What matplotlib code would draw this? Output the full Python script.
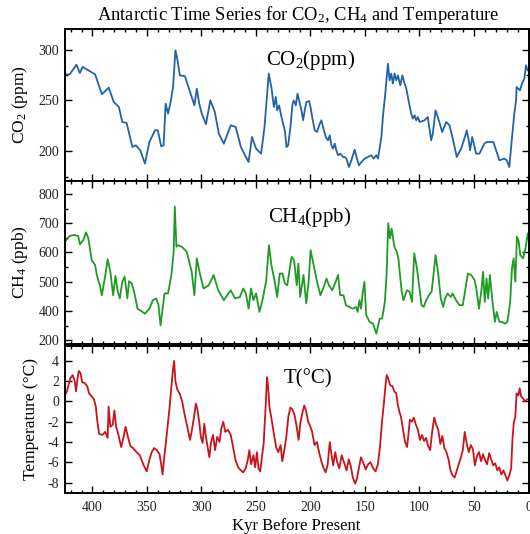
import matplotlib
matplotlib.use("Agg")
import matplotlib.pyplot as plt
from matplotlib.ticker import MultipleLocator, FixedLocator, FixedFormatter

plt.rcParams['font.family'] = ['Liberation Serif', 'DejaVu Serif']
plt.rcParams['mathtext.fontset'] = 'custom'
plt.rcParams['mathtext.rm'] = 'Liberation Serif'
plt.rcParams['mathtext.it'] = 'Liberation Serif:italic'
plt.rcParams['axes.unicode_minus'] = False

# ---------------- data (kyr before present, value) ----------------
co2_age = [425.6, 420.9, 414.7, 411.6, 409.1, 403.8, 397.6, 391.4, 385.1, 380.5,
           375.8, 372.7, 368.7, 363.4, 360.3, 356.2, 351.9, 347.8, 342.6, 340.1,
           337.0, 334.8, 332.9, 330.7, 328.3, 326.1, 323.9, 322.0, 319.9, 315.2,
           311.2, 306.5, 304.3, 302.1, 299.7, 295.9, 291.9, 287.8, 284.1, 279.5,
           273.2, 268.6, 263.9, 259.3, 256.8, 253.7, 249.9, 245.3, 242.2, 238.3,
           235.7, 233.6, 231.8, 230.6, 228.8, 226.6, 223.6, 222.0, 220.5, 218.4,
           216.5, 215.3, 213.5, 211.9, 209.8, 208.3, 206.8, 205.3, 203.7, 201.3,
           200.0, 198.2, 196.1, 194.0, 191.5, 190.0, 188.5, 186.0, 183.9, 182.4,
           180.8, 179.3, 177.8, 176.3, 174.8, 172.6, 170.2, 168.6, 167.1, 164.7,
           162.5, 159.5, 157.4, 155.5, 153.3, 150.3, 147.3, 144.2, 142.1, 139.6,
           138.1, 136.6, 135.0, 133.6, 131.1, 129.0, 127.4, 125.9, 124.4, 122.9,
           121.3, 119.8, 117.6, 115.8, 113.7, 112.1, 109.8, 107.6, 106.1, 104.5,
           103.0, 101.5, 99.9, 95.4, 92.4, 89.3, 87.8, 85.3, 82.3, 79.2,
           75.5, 72.5, 69.5, 65.8, 61.8, 57.9, 56.7, 54.8, 53.6, 51.7,
           50.5, 48.1, 45.0, 40.5, 38.4, 32.2, 26.7, 22.2, 20.0, 17.6,
           15.1, 13.0, 11.4, 10.9, 7.8, 6.0, 3.8, 2.3, 0.8]
co2_ppm = [275.7, 275.7, 285.2, 277.0, 283.0, 279.7, 275.7, 256.1, 262.6, 248.5,
           243.6, 228.9, 227.9, 204.3, 205.9, 201.0, 187.9, 209.2, 220.7, 220.7,
           204.9, 205.9, 246.9, 237.0, 248.5, 263.3, 299.3, 289.5, 274.8, 273.8,
           260.7, 245.2, 261.6, 246.9, 237.0, 226.6, 250.2, 238.7, 217.4, 207.5,
           225.6, 223.9, 204.3, 194.4, 189.5, 214.1, 202.6, 197.7, 223.9, 276.5,
           261.7, 243.6, 253.4, 240.3, 245.2, 233.7, 220.6, 204.2, 205.9, 223.9,
           246.9, 250.1, 245.2, 256.7, 246.9, 240.3, 230.5, 240.3, 248.5, 249.5,
           243.6, 232.2, 220.6, 219.0, 227.2, 230.5, 223.9, 214.0, 210.8, 215.7,
           205.9, 202.6, 207.6, 201.0, 196.1, 197.7, 194.4, 194.4, 192.8, 184.6,
           191.2, 201.7, 192.8, 186.2, 189.5, 192.8, 194.4, 196.1, 192.8, 196.1,
           192.8, 202.6, 214.0, 233.7, 260.0, 286.2, 269.8, 276.4, 266.6, 276.4,
           269.8, 274.7, 264.9, 274.7, 266.6, 261.7, 248.5, 237.0, 232.2, 235.4,
           230.5, 233.7, 228.8, 230.5, 233.7, 210.8, 217.4, 240.3, 230.5, 219.0,
           228.8, 225.6, 212.5, 194.4, 202.6, 215.7, 220.6, 210.8, 201.0, 214.0,
           209.1, 197.7, 197.7, 207.6, 209.1, 209.1, 191.2, 192.8, 191.2, 184.6,
           214.0, 237.0, 250.1, 263.2, 260.0, 266.6, 271.5, 284.6, 279.6]

ch4_age = [426.5, 424.2, 421.1, 417.2, 413.1, 411.5, 408.5, 406.0, 403.8, 400.7,
           397.6, 396.0, 392.9, 391.4, 388.2, 386.1, 383.6, 381.1, 378.9, 376.8,
           374.9, 372.7, 370.5, 368.0, 366.5, 364.0, 361.8, 358.7, 354.1, 351.9,
           347.8, 344.7, 341.6, 339.4, 337.6, 333.9, 330.7, 327.6, 325.5, 324.5,
           323.0, 321.4, 318.3, 313.6, 309.0, 306.5, 304.3, 301.2, 298.1, 293.4,
           288.8, 284.7, 279.5, 273.2, 269.2, 264.8, 261.7, 259.3, 256.8, 254.6,
           252.4, 249.9, 246.8, 243.7, 240.6, 238.1, 235.9, 232.8, 230.6, 228.2,
           225.7, 223.5, 221.3, 219.5, 217.3, 215.1, 212.6, 211.1, 209.5, 206.4,
           203.9, 201.7, 199.9, 197.1, 194.0, 190.9, 187.8, 185.3, 183.1, 180.0,
           176.9, 174.7, 172.8, 169.7, 167.5, 164.4, 161.3, 158.2, 156.7, 155.1,
           153.6, 152.0, 150.5, 148.9, 145.8, 142.7, 139.6, 136.5, 134.3, 131.8,
           130.2, 128.7, 127.1, 125.6, 123.1, 120.9, 119.4, 117.8, 116.3, 114.7,
           111.6, 109.1, 106.9, 104.8, 102.3, 99.8, 98.2, 96.1, 93.9, 91.4,
           88.9, 85.2, 82.7, 80.5, 78.3, 76.5, 74.3, 71.2, 69.6, 66.5,
           63.4, 60.3, 55.6, 52.5, 49.4, 47.9, 45.4, 43.2, 41.7, 40.1,
           38.5, 37.0, 35.4, 32.9, 30.8, 29.2, 26.7, 24.6, 21.4, 19.3,
           16.8, 15.2, 13.7, 12.1, 10.6, 9.0, 7.5, 5.0, 2.8, 0.6]
ch4_ppb = [631, 642, 656, 660, 656, 628, 642, 669, 648, 574,
           557, 523, 483, 454, 523, 577, 534, 454, 520, 466,
           443, 500, 517, 443, 502, 494, 466, 408, 397, 391,
           408, 437, 443, 420, 351, 460, 460, 523, 603, 757,
           620, 625, 620, 603, 534, 454, 580, 523, 477, 488,
           523, 471, 437, 471, 443, 448, 477, 460, 408, 477,
           437, 460, 397, 443, 505, 625, 557, 500, 448, 528,
           528, 494, 488, 534, 585, 574, 488, 562, 448, 523,
           426, 500, 608, 557, 500, 454, 483, 511, 488, 471,
           500, 523, 454, 454, 420, 414, 408, 414, 397, 437,
           408, 466, 500, 386, 363, 357, 323, 374, 374, 431,
           523, 700, 648, 682, 620, 603, 580, 523, 466, 437,
           471, 466, 431, 597, 545, 471, 420, 414, 437, 454,
           466, 591, 523, 443, 414, 443, 460, 448, 460, 437,
           420, 420, 528, 523, 505, 477, 408, 471, 534, 431,
           511, 443, 523, 426, 363, 397, 363, 363, 357, 363,
           431, 545, 580, 500, 654, 637, 591, 580, 614, 665]

temp_age = [426.6, 423.5, 420.3, 418.2, 416.3, 415.1, 413.8, 412.6, 411.0, 409.5,
            407.0, 404.8, 403.2, 400.7, 398.6, 397.0, 395.5, 393.9, 390.8, 388.3,
            386.1, 385.2, 383.6, 381.5, 379.9, 378.3, 376.2, 373.7, 371.5, 369.6,
            367.5, 365.2, 362.8, 359.6, 356.6, 353.5, 350.3, 347.9, 345.7, 343.5,
            341.0, 338.5, 337.0, 335.7, 334.2, 332.6, 330.7, 329.2, 327.6, 326.1,
            325.1, 323.9, 322.3, 320.1, 317.7, 315.5, 313.0, 310.5, 308.3, 306.8,
            305.2, 303.7, 302.1, 300.6, 299.0, 297.4, 295.9, 294.3, 292.8, 291.2,
            289.4, 287.5, 285.6, 283.4, 281.9, 280.0, 278.2, 275.7, 273.2, 271.0,
            268.8, 266.3, 263.9, 261.7, 259.5, 257.6, 256.1, 254.5, 252.3, 250.8,
            249.2, 247.7, 246.1, 244.6, 243.0, 241.4, 239.9, 238.9, 237.7, 235.8,
            233.6, 231.5, 229.6, 227.4, 225.9, 224.3, 222.2, 220.3, 218.4, 216.5,
            214.7, 212.8, 210.9, 209.4, 207.2, 205.7, 204.1, 202.2, 200.4, 198.5,
            196.3, 194.1, 191.7, 189.8, 187.9, 186.1, 184.2, 182.3, 180.8, 179.2,
            177.3, 175.5, 173.6, 171.4, 169.3, 166.8, 164.9, 163.0, 161.2, 159.0,
            157.4, 155.6, 153.7, 151.8, 149.3, 147.2, 145.0, 142.5, 140.3, 138.2,
            136.3, 134.4, 132.5, 131.0, 130.1, 128.8, 126.9, 124.8, 123.2, 121.3,
            120.1, 118.5, 117.0, 115.1, 113.2, 111.4, 110.1, 108.9, 107.0, 105.2,
            103.3, 101.4, 99.6, 97.7, 95.8, 93.9, 92.1, 90.2, 88.4, 86.5,
            84.6, 82.8, 80.9, 79.0, 77.2, 75.3, 73.4, 71.6, 69.7, 67.8,
            66.0, 64.1, 62.2, 60.3, 58.5, 56.6, 54.8, 52.9, 51.0, 49.2,
            47.3, 45.4, 43.5, 41.7, 39.8, 38.0, 36.1, 34.2, 32.4, 30.5,
            28.6, 26.8, 24.9, 23.0, 21.2, 19.3, 17.4, 15.9, 14.6, 13.4,
            12.1, 10.9, 9.3, 8.1, 6.8, 5.0, 3.1, 1.2]
temp_c = [0.3, 1.0, 2.3, 2.6, 2.0, 1.0, 2.2, 3.0, 2.8, 1.9,
          1.8, 1.5, 0.8, 0.5, 0.2, -0.5, -2.0, -3.2, -3.3, -3.0,
          -3.6, -0.5, -2.5, -2.3, -0.9, -2.5, -3.3, -4.5, -3.5, -2.5,
          -3.5, -4.4, -4.6, -5.0, -5.3, -6.2, -6.9, -5.8, -5.0, -4.6,
          -4.8, -5.2, -6.2, -7.2, -5.5, -4.0, -2.0, -0.5, 1.5, 3.2,
          4.0, 2.0, 1.2, 0.8, 0.0, -1.3, -2.5, -3.8, -2.5, -1.5,
          -0.2, -0.8, -2.0, -3.5, -4.1, -2.2, -3.5, -4.5, -5.5, -4.0,
          -3.3, -4.8, -3.5, -4.0, -2.7, -2.0, -3.0, -2.8, -3.3, -4.5,
          -5.8, -6.5, -6.8, -7.0, -6.6, -5.8, -4.8, -6.2, -5.3, -6.5,
          -5.0, -6.6, -6.9, -5.5, -4.2, -1.0, 2.4, 1.5, -0.5, -1.7,
          -3.2, -4.5, -5.0, -4.3, -5.9, -5.0, -3.5, -1.5, -0.6, -0.8,
          -1.3, -2.4, -3.8, -2.2, -1.0, -0.4, -0.9, -2.0, -2.4, -3.0,
          -4.3, -4.0, -5.2, -6.0, -6.6, -7.0, -6.2, -4.0, -5.2, -6.3,
          -5.0, -6.0, -6.6, -5.3, -6.0, -6.8, -5.7, -6.4, -7.5, -8.1,
          -7.6, -6.6, -5.5, -6.0, -6.7, -6.2, -6.0, -6.6, -6.9, -6.2,
          -4.5, -2.0, 0.0, 1.8, 2.6, 2.3, 1.6, 1.5, 1.0, 0.8,
          -0.2, -1.0, -1.5, -2.8, -4.0, -4.5, -3.2, -1.8, -2.0, -1.6,
          -2.3, -2.8, -3.8, -3.3, -3.9, -3.6, -4.4, -4.8, -3.0, -1.6,
          -2.3, -2.8, -4.2, -3.4, -4.6, -5.0, -5.7, -6.8, -7.3, -7.5,
          -6.9, -6.2, -5.6, -4.8, -3.0, -4.2, -5.0, -4.3, -4.7, -6.3,
          -5.4, -5.0, -5.9, -5.2, -5.8, -6.2, -5.1, -5.7, -6.3, -6.1,
          -6.8, -6.5, -7.2, -6.8, -7.3, -7.8, -7.2, -6.6, -3.5, -2.0,
          -1.5, 0.8, 0.6, 1.3, 0.5, 0.3, 0.0, 0.2]

ch4_tick_pos = [300, 400, 500, 600, 700, 800]
ch4_tick_lab = ['200', '400', '500', '600', '700', '800']
x_ticks = [400, 350, 300, 250, 200, 150, 100, 50, 0]

# ---------------- figure ----------------
W, H = 530, 534
fig = plt.figure(figsize=(W / 100, H / 100), dpi=100)

left = 64.7 / W
width = (528.5 - 64.7) / W

def frac(top, bottom):
    return [left, 1 - bottom / H, width, (bottom - top) / H]

ax1 = fig.add_axes(frac(29.3, 180.8))
ax2 = fig.add_axes(frac(180.8, 343.5))
ax3 = fig.add_axes(frac(345.7, 492.7))

tick_col = '#222222'
for ax in (ax1, ax2, ax3):
    ax.set_xlim(425.5, 0)
    ax.xaxis.set_major_locator(FixedLocator(x_ticks))
    ax.xaxis.set_minor_locator(MultipleLocator(10))
    ax.tick_params(which='both', direction='in', top=True, right=True,
                   labelsize=10, labelcolor=tick_col, width=1.0)
    ax.tick_params(which='major', length=5, pad=4)
    ax.tick_params(which='minor', length=2.5)
    for s in ax.spines.values():
        s.set_linewidth(1.4)
ax1.tick_params(labelbottom=False)
ax2.tick_params(labelbottom=False)
ax3.tick_params(axis='x', pad=6)

# CO2
ax1.plot(co2_age, co2_ppm, color='#2262a8', lw=1.3)
ax1.set_ylim(171, 320)
ax1.yaxis.set_major_locator(MultipleLocator(50))
ax1.yaxis.set_minor_locator(MultipleLocator(25))
ax1.set_ylabel('CO$_2$ (ppm)', fontsize=12.5, labelpad=6)
ax1.text(0.531, 0.80, 'CO$_2$(ppm)', fontsize=15, ha='center', va='center',
         transform=ax1.transAxes)

# CH4
ax2.plot(ch4_age, ch4_ppb, color='#1f9a25', lw=1.3)
ax2.set_ylim(289, 845)
ax2.yaxis.set_major_locator(FixedLocator(ch4_tick_pos))
ax2.yaxis.set_major_formatter(FixedFormatter(ch4_tick_lab))
ax2.yaxis.set_minor_locator(MultipleLocator(50))
ax2.set_ylabel('CH$_4$ (ppb)', fontsize=12.5, labelpad=6)
ax2.text(0.528, 0.775, 'CH$_4$(ppb)', fontsize=15, ha='center', va='center',
         transform=ax2.transAxes)

# Temperature
ax3.plot(temp_age, temp_c, color='#c8141c', lw=1.3)
ax3.set_ylim(-9, 5.5)
ax3.yaxis.set_major_locator(MultipleLocator(2))
ax3.yaxis.set_minor_locator(MultipleLocator(2))
ax3.set_ylabel('Temperature (\u00b0C)', fontsize=12.5, labelpad=6)
ax3.text(0.525, 0.775, 'T(\u00b0C)', fontsize=15, ha='center', va='center',
         transform=ax3.transAxes)
ax3.set_xlabel('Kyr Before Present', fontsize=12, labelpad=3)

fig.text(298.5 / W, 1 - 15 / H, 'Antarctic Time Series for CO$_2$, CH$_4$ and Temperature',
         fontsize=13.4, ha='center', va='center')

fig.savefig('out.png', dpi=100)
